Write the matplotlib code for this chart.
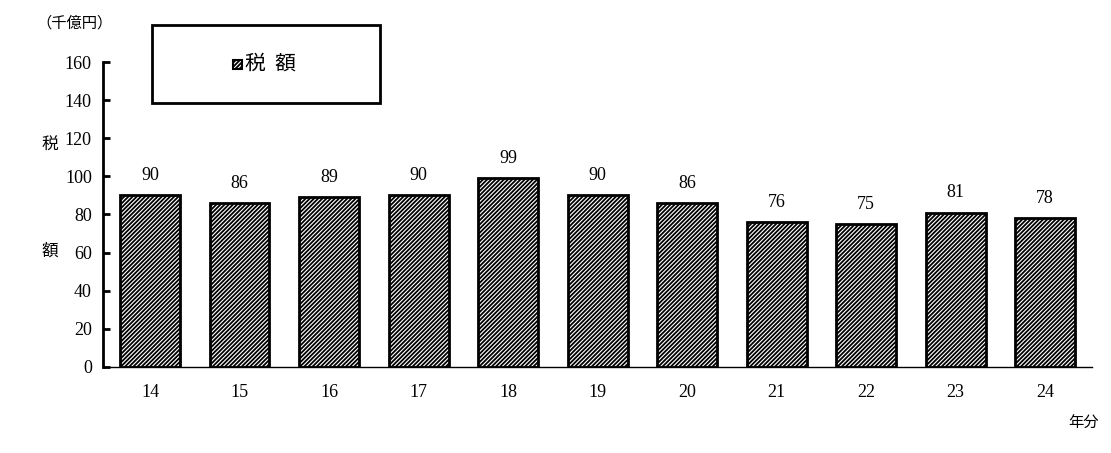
import matplotlib
matplotlib.use("Agg")
import matplotlib.pyplot as plt
from matplotlib.patches import Rectangle

years = ["14","15","16","17","18","19","20","21","22","23","24"]
values = [90, 86, 89, 90, 99, 90, 86, 76, 75, 81, 78]

plt.rcParams['hatch.linewidth'] = 1.3
fig = plt.figure(figsize=(11.11, 4.53), dpi=100)
ax = fig.add_axes([0.0927, 0.19, 0.983-0.0927, 0.863-0.19])
x = range(len(years))
ax.bar(x, values, width=0.67, color="white", edgecolor="black", hatch="////////", linewidth=2)
serif = ["Liberation Serif", "DejaVu Serif"]
cjk = ["Noto Sans CJK JP", "DejaVu Sans"]
for i, v in zip(x, values):
    ax.text(i, v + 6, str(v), ha="center", va="bottom", fontsize=13, family=serif)
ax.set_ylim(0, 160)
ax.set_xlim(-0.525, len(years) - 0.475)
ax.set_yticks(range(0, 161, 20))
ax.set_xticks(list(x))
ax.set_xticklabels(years, family=serif, fontsize=13)
for t in ax.get_yticklabels():
    t.set_family(serif); t.set_fontsize(13)
for s in ["top", "right"]:
    ax.spines[s].set_visible(False)
ax.spines["left"].set_linewidth(2)
ax.spines["bottom"].set_linewidth(1)
ax.tick_params(axis="y", direction="in", length=5, width=2, pad=8)
ax.tick_params(axis="x", length=0, pad=12)
fig.text(0.033, 0.95, "（千億円）", family=cjk, fontsize=11, va="center")
fig.text(0.045, 0.68, "税", family=cjk, fontsize=12, ha="center", va="center")
fig.text(0.045, 0.445, "額", family=cjk, fontsize=12, ha="center", va="center")
fig.text(0.975, 0.065, "年分", family=cjk, fontsize=11, ha="center", va="center")
# legend box
fig.patches.append(Rectangle((0.1368, 0.7726), 0.205, 0.172, transform=fig.transFigure,
                             facecolor="white", edgecolor="black", linewidth=2))
fig.patches.append(Rectangle((233/1111, 1-69/453), 9/1111, 9/453, transform=fig.transFigure,
                             facecolor="white", edgecolor="black", hatch="////////", linewidth=1.5))
fig.text(245/1111, 1-64/453, "税  額", family=cjk, fontsize=15, va="center", ha="left")
fig.savefig("out.png", dpi=100)
